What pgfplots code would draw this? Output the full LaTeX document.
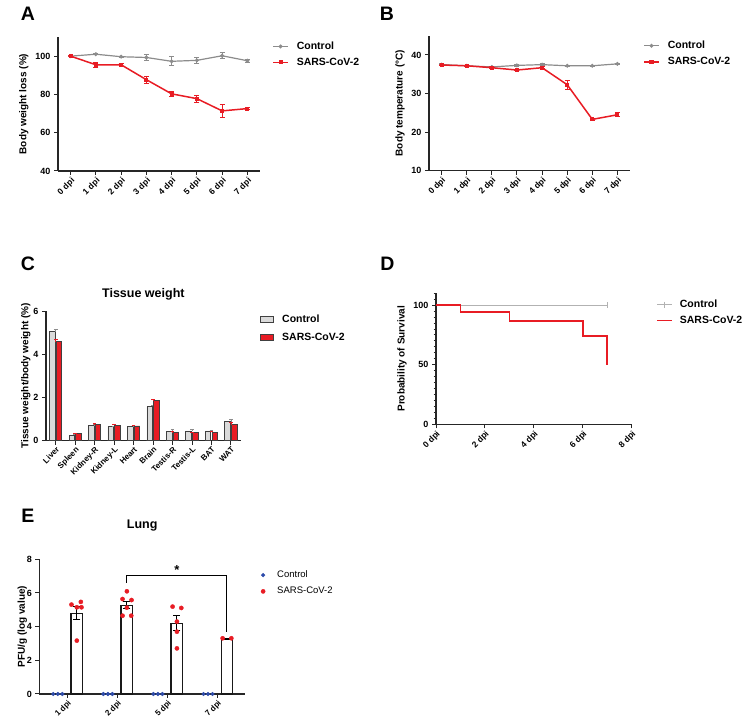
\documentclass[border=0pt]{standalone}
\usepackage{pgfplots}
\usepackage{pgfplotstable}
\pgfplotsset{compat=1.18}
\usepackage{fontspec}
\setmainfont{Liberation Sans}
\definecolor{cred}{RGB}{232,28,36}
\definecolor{cgray}{RGB}{140,140,140}
\definecolor{cgrayl}{RGB}{178,178,178}
\definecolor{cbarg}{RGB}{218,218,218}
\definecolor{cblue}{RGB}{45,75,170}

\pgfplotstableread{
x y e
0 100 0
1 101 0.4
2 99.7 0.3
3 99.3 1.4
4 97.3 2.4
5 97.8 1.7
6 100.2 1.5
7 97.6 0.8
}\Actrl
\pgfplotstableread{
x y e
0 100 0.3
1 95.5 1.3
2 95.5 0.9
3 87.7 1.9
4 80.3 1.4
5 77.8 1.8
6 71.4 3.4
7 72.6 0.4
}\Asars
\pgfplotstableread{
x y e
0 37.5 0.2
1 37.2 0.2
2 36.9 0.2
3 37.3 0.2
4 37.5 0.2
5 37.2 0.2
6 37.2 0.2
7 37.7 0.2
}\Bctrl
\pgfplotstableread{
x y e
0 37.4 0.2
1 37.2 0.2
2 36.7 0.2
3 36.1 0.2
4 36.7 0.2
5 32.3 1.2
6 23.3 0.2
7 24.5 0.5
}\Bsars
\pgfplotstableread{
x c ce s se
0 5.05 0.10 4.58 0.12
1 0.25 0.02 0.32 0.02
2 0.71 0.03 0.76 0.03
3 0.65 0.03 0.72 0.03
4 0.64 0.08 0.68 0.04
5 1.57 0.08 1.85 0.06
6 0.43 0.08 0.39 0.03
7 0.45 0.05 0.37 0.02
8 0.45 0.03 0.39 0.04
9 0.88 0.10 0.74 0.12
}\Ctab
\pgfplotstableread{
x y e
0.19 4.80 0.38
1.19 5.27 0.22
2.19 4.20 0.45
3.19 3.27 0.03
}\Ebars
\pgfplotstableread{
x y
-0.28 0
-0.19 0
-0.10 0
0.72 0
0.81 0
0.90 0
1.72 0
1.81 0
1.90 0
2.72 0
2.81 0
2.90 0
}\Ectrl
\pgfplotstableread{
x y
0.083 5.31
0.270 5.47
0.190 5.15
0.283 5.15
0.190 3.17
1.190 6.10
1.103 5.64
1.283 5.58
1.190 5.13
1.103 4.65
1.277 4.65
2.103 5.19
2.277 5.11
2.190 4.30
2.190 3.70
2.190 2.71
3.103 3.31
3.277 3.31
}\Esars

\pgfplotsset{
  gp/.style={
    scale only axis,
    anchor=south west,
    axis x line*=bottom, axis y line*=left,
    axis line style={line width=1.1pt, black!85},
    tick align=outside,
    major tick length=4pt,
    minor tick length=2.5pt,
    tick style={line width=1pt, black!85},
    tick label style={font=\bfseries\fontsize{9}{10}\selectfont},
    /pgf/number format/assume math mode=true,
    label style={font=\bfseries\fontsize{10}{12}\selectfont},
    xticklabel style={rotate=45, anchor=north east, inner sep=1pt, font=\bfseries\fontsize{8.5}{9}\selectfont},
    title style={font=\bfseries\fontsize{12.5}{14}\selectfont},
    legend style={draw=none, fill=none, font=\bfseries\fontsize{10.5}{12}\selectfont,
      anchor=north west, row sep=3pt, column sep=6pt, inner sep=0pt, cells={anchor=west}},
    legend cell align=left,
    clip=false,
  },
  lineleg/.style={legend image code/.code={\draw[mark repeat=2,mark phase=2,##1] plot coordinates {(0pt,0pt)(7.5pt,0pt)(15pt,0pt)};}},
  boxleg/.style={legend image code/.code={\draw[##1,/tikz/.cd] (0pt,-3pt) rectangle (13pt,3pt);}},
  dotleg/.style={legend image code/.code={\draw[mark repeat=2,mark phase=2,##1] plot coordinates {(0pt,0pt)(4pt,0pt)(8pt,0pt)};}},
  ebar/.style={error bars/.cd, y dir=both, y explicit, error bar style={line width=1pt}, error mark options={rotate=90, line width=1pt, mark size=2.5pt}},
}

\begin{document}
\begin{tikzpicture}
\path[use as bounding box] (0pt,0pt) rectangle (753pt,723pt);

% Panel letters
\node[font=\bfseries\fontsize{19.5}{20}\selectfont] at (28pt,709.3pt) {A};
\node[font=\bfseries\fontsize{19.5}{20}\selectfont] at (387pt,709pt) {B};
\node[font=\bfseries\fontsize{19.5}{20}\selectfont] at (28pt,459.7pt) {C};
\node[font=\bfseries\fontsize{19.5}{20}\selectfont] at (387.5pt,459pt) {D};
\node[font=\bfseries\fontsize{19.5}{20}\selectfont] at (28pt,207.3pt) {E};

% Panel A
\begin{axis}[gp, lineleg, at={(58pt,552pt)}, width=202pt, height=134pt,
  xmin=-0.5, xmax=7.5, ymin=40, ymax=110, ytick={40,60,80,100},
  xtick={0,...,7}, xticklabels={0 dpi,1 dpi,2 dpi,3 dpi,4 dpi,5 dpi,6 dpi,7 dpi},
  ylabel={Body weight loss (\%)},
  legend style={at={(1.06,0.98)}}]
\addplot[cgray, line width=1.2pt, mark=*, mark size=1.3pt, mark options={solid, fill=cgray}, ebar]
  table[x=x, y=y, y error=e] {\Actrl};
\addlegendentry{Control}
\addplot[cred, line width=1.5pt, mark=square*, mark size=1.3pt, mark options={solid, fill=cred}, ebar]
  table[x=x, y=y, y error=e] {\Asars};
\addlegendentry{SARS-CoV-2}
\end{axis}

% Panel B
\begin{axis}[gp, lineleg, at={(429pt,552.3pt)}, width=201pt, height=135pt,
  xmin=-0.5, xmax=7.5, ymin=10, ymax=45, ytick={10,20,30,40},
  xtick={0,...,7}, xticklabels={0 dpi,1 dpi,2 dpi,3 dpi,4 dpi,5 dpi,6 dpi,7 dpi},
  ylabel={Body temperature (\textdegree C)},
  legend style={at={(1.065,0.975)}}]
\addplot[cgray, line width=1.2pt, mark=*, mark size=1.3pt, mark options={solid, fill=cgray}, ebar]
  table[x=x, y=y, y error=e] {\Bctrl};
\addlegendentry{Control}
\addplot[cred, line width=1.5pt, mark=square*, mark size=1.3pt, mark options={solid, fill=cred}, ebar]
  table[x=x, y=y, y error=e] {\Bsars};
\addlegendentry{SARS-CoV-2}
\end{axis}

% Panel C
\begin{axis}[gp, boxleg, at={(46pt,282.3pt)}, width=194.7pt, height=129.7pt,
  xmin=-0.5, xmax=9.5, ymin=0, ymax=6, ytick={0,2,4,6},
  xtick={0,...,9}, xticklabels={Liver,Spleen,Kidney-R,Kidney-L,Heart,Brain,Testis-R,Testis-L,BAT,WAT},
  xticklabel style={font=\bfseries\fontsize{8}{8}\selectfont},
  ylabel={Tissue weight/body weight (\%)}, ylabel shift=-4pt,
  title={Tissue weight}, title style={yshift=1pt},
  legend style={at={(1.10,0.985)}, row sep=5pt}]
\addplot[ybar, bar width=5.5pt, bar shift=-3.4pt, fill=cbarg, draw=black!75, line width=0.8pt,
  error bars/.cd, y dir=plus, y explicit, error bar style={cgray, line width=0.8pt}, error mark options={rotate=90, cgray, line width=0.8pt, mark size=1.8pt}]
  table[x=x, y=c, y error=ce] {\Ctab};
\addlegendentry{Control}
\addplot[ybar, bar width=5.5pt, bar shift=3.4pt, fill=cred, draw=black!75, line width=0.8pt,
  error bars/.cd, y dir=plus, y explicit, error bar style={cred, line width=0.8pt}, error mark options={rotate=90, cred, line width=0.8pt, mark size=1.8pt}]
  table[x=x, y=s, y error=se] {\Ctab};
\addlegendentry{SARS-CoV-2}
\end{axis}

% Panel D
\begin{axis}[gp, lineleg, at={(436pt,298.7pt)}, width=195.7pt, height=131pt,
  xmin=0, xmax=8, ymin=0, ymax=110, ytick={0,50,100}, minor ytick={5,10,...,110},
  xtick={0,2,4,6,8}, xticklabels={0 dpi,2 dpi,4 dpi,6 dpi,8 dpi},
  ylabel={Probability of Survival},
  legend style={at={(1.125,0.965)}, column sep=5pt}]
\addplot[cgrayl, line width=1.2pt, const plot, mark=|, mark indices={2}, mark size=3pt]
  coordinates {(0,100) (7,100)};
\addlegendentry{Control}
\addplot[cred, line width=1.5pt, const plot]
  coordinates {(0,100) (1,94.4) (3,86.7) (6,74.3) (7,49.5)};
\addlegendentry{SARS-CoV-2}
\end{axis}

% Panel E
\begin{axis}[gp, dotleg, at={(39.3pt,29pt)}, width=205.7pt, height=134.7pt,
  xmin=-0.56, xmax=3.55, ymin=0, ymax=8, ytick={0,2,4,6,8},
  xtick={0,1,2,3}, xticklabels={1 dpi,2 dpi,5 dpi,7 dpi},
  xticklabel style={font=\bfseries\fontsize{8}{8}\selectfont},
  ylabel={PFU/g (log value)}, ylabel shift=-7pt,
  title={Lung}, title style={yshift=19pt},
  legend style={at={(1.077,0.93)}, font=\fontsize{9.5}{11}\selectfont, row sep=4pt, column sep=10pt}]
\addplot[ybar, bar width=11.7pt, bar shift=0pt, fill=white, draw=black!90, line width=1.2pt, forget plot,
  error bars/.cd, y dir=both, y explicit, error bar style={black, line width=1pt}, error mark options={rotate=90, black, line width=1pt, mark size=3.5pt}]
  table[x=x, y=y, y error=e] {\Ebars};
\addplot[black, line width=1pt, forget plot]
  coordinates {(1.19,6.6) (1.19,7.03) (3.19,7.03) (3.19,3.7)};
\node[font=\bfseries\fontsize{13}{13}\selectfont] at (axis cs:2.19,7.35) {*};
\addplot[only marks, mark=*, mark size=1.9pt, cblue, mark options={fill=cblue}]
  table[x=x, y=y] {\Ectrl};
\addlegendentry{Control}
\addplot[only marks, mark=*, mark size=2.1pt, cred, mark options={fill=cred}]
  table[x=x, y=y] {\Esars};
\addlegendentry{SARS-CoV-2}
\end{axis}
\end{tikzpicture}
\end{document}
